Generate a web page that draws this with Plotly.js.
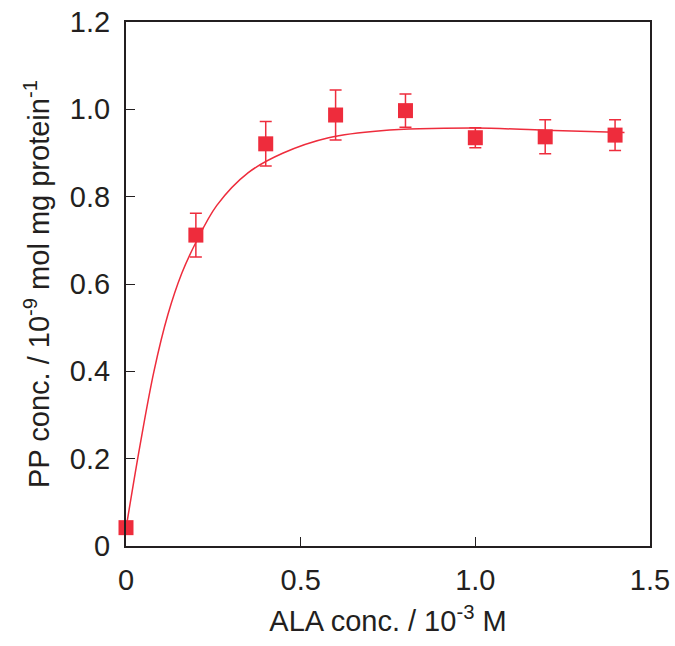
<!DOCTYPE html>
<html>
<head>
<meta charset="utf-8">
<script src="https://cdn.plot.ly/plotly-3.0.1.min.js"></script>
<style>html,body{margin:0;padding:0;background:#fff;}#chart{width:675px;height:646px;}</style>
</head>
<body>
<div id="chart"></div>
<script>
// Measured data (ALA conc. in 10^-3 M, PP conc. in 10^-9 mol/mg protein)
const alaConc = [0, 0.2, 0.4, 0.6, 0.8, 1.0, 1.2, 1.4];
const ppConc  = [0.042, 0.712, 0.921, 0.987, 0.997, 0.935, 0.937, 0.941];
const ppError = [0, 0.050, 0.051, 0.057, 0.038, 0.023, 0.039, 0.035];

// Fitted curve
const fitX = [0, 0.04, 0.08, 0.12, 0.16, 0.20, 0.26, 0.35, 0.45, 0.58, 0.73, 1.0, 1.2, 1.427];
const fitY = [0.040, 0.230, 0.400, 0.530, 0.625, 0.695, 0.780, 0.855, 0.900, 0.935, 0.951, 0.957, 0.952, 0.947];

const xTicks = [0, 0.5, 1.0, 1.5];
const xTickText = ['0', '0.5', '1.0', '1.5'];
const yTicks = [0, 0.2, 0.4, 0.6, 0.8, 1.0, 1.2];
const yTickText = ['0', '0.2', '0.4', '0.6', '0.8', '1.0', '1.2'];

const red = '#ee2c3c';
const ink = '#231f20';
const fontFam = 'Liberation Sans, Arial, sans-serif';
const fs = 29;

const traces = [
  {
    x: fitX, y: fitY, type: 'scatter', mode: 'lines',
    line: {color: red, width: 1.5, shape: 'spline', smoothing: 1},
    hoverinfo: 'skip', showlegend: false
  },
  {
    x: alaConc, y: ppConc, type: 'scatter', mode: 'markers',
    marker: {symbol: 'square', size: 15, color: red},
    error_y: {type: 'data', array: ppError, visible: true, color: red, thickness: 1.5, width: 6},
    showlegend: false, cliponaxis: false
  }
];

const layout = {
  width: 675, height: 646,
  margin: {l: 126, r: 25, t: 22, b: 100},
  paper_bgcolor: '#fff', plot_bgcolor: '#fff',
  font: {family: fontFam, size: fs, color: ink},
  showlegend: false,
  xaxis: {
    range: [0, 1.5], tickvals: xTicks, ticktext: xTickText,
    ticks: 'inside', ticklen: 9, tickwidth: 1, tickcolor: ink,
    showline: true, linecolor: ink, linewidth: 2, mirror: true,
    showgrid: false, zeroline: false,
    ticklabelstandoff: 7,
    tickfont: {family: fontFam, size: fs, color: ink},
    title: {text: 'ALA conc. / 10<sup>-3</sup> M', font: {family: fontFam, size: fs, color: ink}, standoff: 16}
  },
  yaxis: {
    range: [0, 1.2], tickvals: yTicks, ticktext: yTickText,
    ticks: 'inside', ticklen: 9, tickwidth: 1, tickcolor: ink,
    showline: true, linecolor: ink, linewidth: 2, mirror: true,
    showgrid: false, zeroline: false,
    ticklabelstandoff: 8,
    tickfont: {family: fontFam, size: fs, color: ink},
    title: {text: 'PP conc. / 10<sup>-9</sup> mol mg protein<sup>-1</sup>', font: {family: fontFam, size: fs, color: ink}, standoff: 12}
  }
};

Plotly.newPlot('chart', traces, layout, {displayModeBar: false, staticPlot: true});
</script>
</body>
</html>
